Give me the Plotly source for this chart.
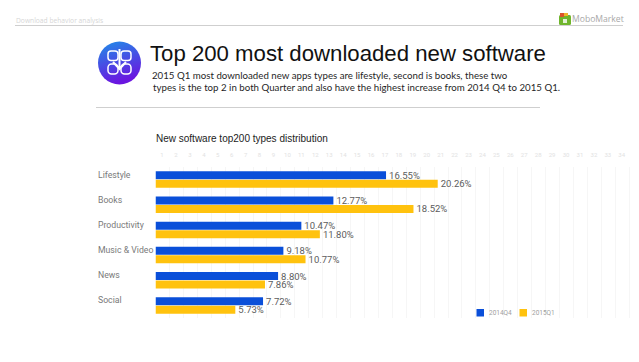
import base64
import plotly.graph_objects as go

categories = ["Lifestyle", "Books", "Productivity", "Music & Video", "News", "Social"]
q4_2014 = [16.55, 12.77, 10.47, 9.18, 8.80, 7.72]
q1_2015 = [20.26, 18.52, 11.80, 10.77, 7.86, 5.73]
series_names = ["2014Q4", "2015Q1"]
tick_labels = [str(i) for i in range(1, 36)]
BLUE = "#0a4fd9"
YELLOW = "#ffc20e"
W, H = 639, 362

def px(x):
    return x / W
def py(y):
    return 1 - y / H

def labels(vals):
    return [f"{v:.2f}%" for v in vals]

fig = go.Figure()
for name, vals, col in [(series_names[0], q4_2014, BLUE), (series_names[1], q1_2015, YELLOW)]:
    fig.add_trace(go.Bar(y=categories, x=vals, name=name, orientation="h",
                         marker=dict(color=col, line=dict(width=0)),
                         text=labels(vals), textposition="outside", constraintext="none",
                         cliponaxis=False,
                         textfont=dict(family="Roboto", size=9.5, color="#5c5c5c"),
                         showlegend=False))

icon = """<svg xmlns='http://www.w3.org/2000/svg' viewBox='0 0 44 44'>
<defs><linearGradient id='g' x1='0' y1='0' x2='0.3' y2='1'><stop offset='0' stop-color='#1f8ee8'/><stop offset='1' stop-color='#6a16e0'/></linearGradient></defs>
<circle cx='22' cy='22' r='21.5' fill='url(#g)'/>
<g fill='none' stroke='white' stroke-width='1.5'>
<rect x='10.5' y='10' width='10' height='9.5' rx='3'/><rect x='23.5' y='10' width='10' height='9.5' rx='3'/>
<rect x='10.5' y='23' width='10' height='10' rx='3.5'/><rect x='23.5' y='23' width='10' height='10' rx='3.5'/></g>
<path d='M22 8V27M15.5 21L22 28L28.5 21' fill='none' stroke='white' stroke-width='2'/>
</svg>"""
logo = """<svg xmlns='http://www.w3.org/2000/svg' viewBox='0 0 12 12'>
<rect x='0' y='2' width='12' height='10' rx='1.5' fill='#6fb52c'/>
<rect x='1' y='0' width='4' height='4' fill='#d9532c'/><rect x='5' y='0' width='4' height='3' fill='#f0b429'/>
<rect x='4' y='6' width='4' height='4' fill='#ffffff' opacity='0.8'/>
</svg>"""
def uri(s):
    return "data:image/svg+xml;base64," + base64.b64encode(s.encode()).decode()

images = [
    dict(source=uri(icon), xref="paper", yref="paper", x=px(97.5), y=py(41), sizex=44/W, sizey=44/H,
         xanchor="left", yanchor="top", sizing="stretch", layer="above"),
    dict(source=uri(logo), xref="paper", yref="paper", x=px(559), y=py(13), sizex=12/W, sizey=12/H,
         xanchor="left", yanchor="top", sizing="stretch", layer="above"),
]

def text(x, y, s, size, color, family="Liberation Sans", anchor="left"):
    return dict(xref="paper", yref="paper", x=px(x), y=py(y), text=s, showarrow=False,
                xanchor=anchor, yanchor="middle", align="left", borderpad=0,
                font=dict(family=family, size=size, color=color))

annotations = [
    text(15, 20.5, "Download behavior analysis", 6.7, "#d6d6d6", "Open Sans"),
    text(571, 19, "MoboMarket", 8.6, "#a8a8a8", "Open Sans"),
    text(149, 53, "Top 200 most downloaded new software", 22.2, "#111111"),
    text(151, 74.5, "2015 Q1 most downloaded new apps types are lifestyle, second is books, these two", 9.7, "#1f1f1f", "Lato"),
    text(152, 87.5, "types is the top 2 in both Quarter and also have the highest increase from 2014 Q4 to 2015 Q1.", 9.7, "#1f1f1f", "Lato"),
    text(155, 138.5, "New software top200 types distribution", 10, "#222222"),
    text(488, 313, series_names[0], 6.5, "#a0a0a0", "Roboto"),
    text(531, 313, series_names[1], 6.5, "#a0a0a0", "Roboto"),
]
for c in categories:
    annotations.append(dict(xref="paper", yref="y", x=px(97), y=c, text=c, showarrow=False,
                            xanchor="left", yanchor="middle", yshift=5, borderpad=0,
                            font=dict(family="Roboto", size=8.7, color="#7a7a7a")))

def line(x0, x1, y):
    return dict(type="line", xref="paper", yref="paper", x0=px(x0), x1=px(x1), y0=py(y), y1=py(y),
                line=dict(color="#cfcfcf", width=1))
def swatch(x, col):
    return dict(type="rect", xref="paper", yref="paper", x0=px(x), x1=px(x + 7.5), y0=py(316.5), y1=py(309),
                fillcolor=col, line=dict(width=0))

shapes = [line(15, 623, 25.5), line(96, 540, 107.5), swatch(476.5, BLUE), swatch(519.5, YELLOW)]

unit_px = 13.93
fig.update_layout(
    width=W, height=H, autosize=False,
    margin=dict(l=0, r=0, t=0, b=0),
    paper_bgcolor="white", plot_bgcolor="white",
    barmode="group", bargap=0.33, bargroupgap=0.05,
    showlegend=False,
    images=images, annotations=annotations, shapes=shapes,
    xaxis=dict(domain=[px(155.5), 1], range=[0, (W - 155.5) / unit_px], side="top",
               tickvals=[i + 0.47 for i in range(len(tick_labels))], ticktext=tick_labels,
               tickfont=dict(family="Roboto", size=6, color="#e2e2e2"),
               ticks="outside", ticklen=7, tickcolor="white", showgrid=False, showline=False, zeroline=False,
               minor=dict(tick0=0, dtick=1, showgrid=True, gridcolor="#f6f6f6", gridwidth=1, ticks="")),
    yaxis=dict(domain=[py(318), py(167)], autorange="reversed", categoryorder="array",
               categoryarray=categories, showticklabels=False, ticks="", showline=False,
               showgrid=False, zeroline=False),
)
fig.write_html("out.html", post_script="document.body.style.margin='0';",
               config={"displayModeBar": False})
